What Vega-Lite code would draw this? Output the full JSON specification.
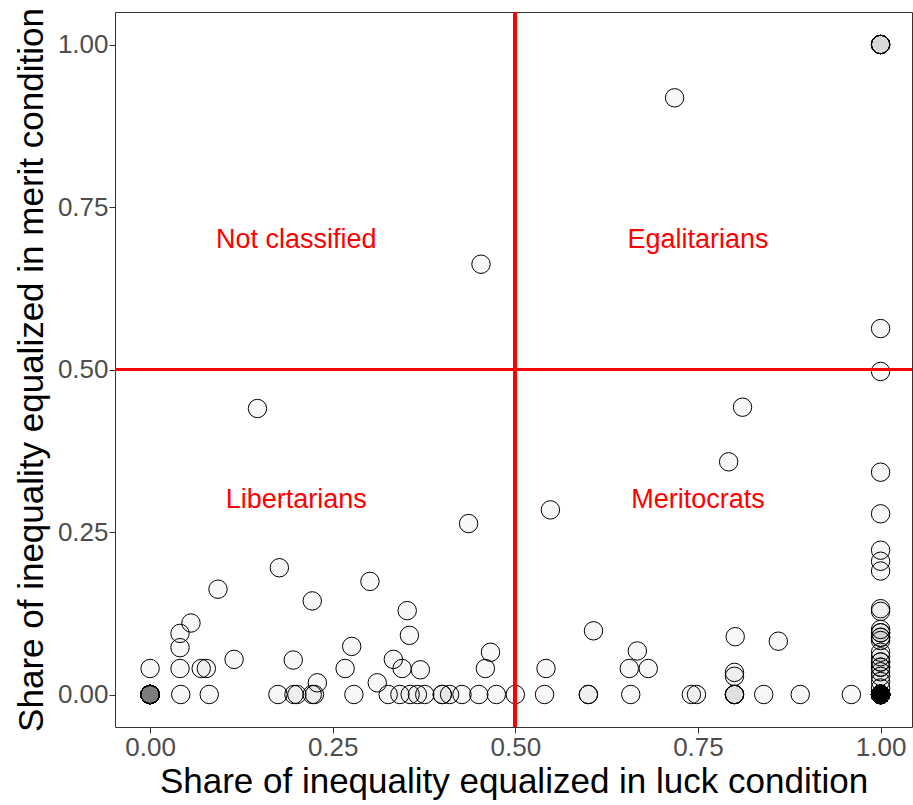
{
  "$schema": "https://vega.github.io/schema/vega-lite/v6.json",
  "width": 797,
  "height": 715,
  "autosize": {"type": "none"},
  "padding": {"left": 115, "top": 12, "right": 1, "bottom": 78},
  "background": "white",
  "config": {
    "view": {"stroke": "#333333", "strokeWidth": 1},
    "axis": {
      "grid": false, "domain": false, "tickColor": "#333333", "tickSize": 6, "tickWidth": 1,
      "labelColor": "#4d4d4d", "labelFont": "Liberation Sans", "labelFontSize": 26, "labelPadding": 1,
      "titleFont": "Liberation Sans", "titleFontSize": 35, "titleFontWeight": "normal", "titleColor": "black",
      "labelFlush": false
    }
  },
  "data": {"values": [
    {"luck":0.718,"merit":0.918},{"luck":0.453,"merit":0.662},{"luck":0.811,"merit":0.442},{"luck":0.147,"merit":0.44},
    {"luck":0.792,"merit":0.358},{"luck":0.548,"merit":0.284},{"luck":0.436,"merit":0.263},{"luck":0.093,"merit":0.162},
    {"luck":0.177,"merit":0.195},{"luck":0.222,"merit":0.144},{"luck":0.301,"merit":0.174},{"luck":0.056,"merit":0.11},
    {"luck":0.041,"merit":0.094},{"luck":0.041,"merit":0.072},{"luck":0.115,"merit":0.054},{"luck":0,"merit":0.04},
    {"luck":0.041,"merit":0.04},{"luck":0.07,"merit":0.04},{"luck":0.077,"merit":0.04},{"luck":0.196,"merit":0.053},
    {"luck":0.229,"merit":0.018},{"luck":0.276,"merit":0.074},{"luck":0.267,"merit":0.04},{"luck":0.311,"merit":0.018},
    {"luck":0.352,"merit":0.129},{"luck":0.355,"merit":0.091},{"luck":0.333,"merit":0.054},{"luck":0.345,"merit":0.04},
    {"luck":0.37,"merit":0.038},{"luck":0.466,"merit":0.065},{"luck":0.459,"merit":0.04},{"luck":0.607,"merit":0.098},
    {"luck":0.542,"merit":0.04},{"luck":0.656,"merit":0.04},{"luck":0.682,"merit":0.04},{"luck":0.667,"merit":0.067},
    {"luck":0.801,"merit":0.089},{"luck":0.86,"merit":0.082},{"luck":0.8,"merit":0.034},{"luck":0.8,"merit":0.028},
    {"luck":0.042,"merit":0},{"luck":0.081,"merit":0},{"luck":0.175,"merit":0},{"luck":0.197,"merit":0},
    {"luck":0.201,"merit":0},{"luck":0.222,"merit":0},{"luck":0.225,"merit":0},{"luck":0.279,"merit":0},
    {"luck":0.326,"merit":0},{"luck":0.342,"merit":0},{"luck":0.356,"merit":0},{"luck":0.366,"merit":0},
    {"luck":0.376,"merit":0},{"luck":0.4,"merit":0},{"luck":0.4,"merit":0},{"luck":0.41,"merit":0},
    {"luck":0.427,"merit":0},{"luck":0.45,"merit":0},{"luck":0.474,"merit":0},{"luck":0.5,"merit":0},
    {"luck":0.54,"merit":0},{"luck":0.6,"merit":0},{"luck":0.6,"merit":0},{"luck":0.658,"merit":0},
    {"luck":0.741,"merit":0},{"luck":0.748,"merit":0},{"luck":0.8,"merit":0},{"luck":0.8,"merit":0},
    {"luck":0.8,"merit":0},{"luck":0.8,"merit":0},{"luck":0.84,"merit":0},{"luck":0.89,"merit":0},
    {"luck":0.96,"merit":0},
    {"luck":1,"merit":1},{"luck":1,"merit":1},{"luck":1,"merit":1},{"luck":1,"merit":1},{"luck":1,"merit":1},
    {"luck":1,"merit":0.563},{"luck":1,"merit":0.497},{"luck":1,"merit":0.342},{"luck":1,"merit":0.278},
    {"luck":1,"merit":0.222},{"luck":1,"merit":0.205},{"luck":1,"merit":0.19},{"luck":1,"merit":0.132},
    {"luck":1,"merit":0.128},{"luck":1,"merit":0.1},{"luck":1,"merit":0.095},{"luck":1,"merit":0.095},
    {"luck":1,"merit":0.088},{"luck":1,"merit":0.088},{"luck":1,"merit":0.083},{"luck":1,"merit":0.065},
    {"luck":1,"merit":0.058},{"luck":1,"merit":0.05},{"luck":1,"merit":0.05},{"luck":1,"merit":0.042},
    {"luck":1,"merit":0.042},{"luck":1,"merit":0.035},{"luck":1,"merit":0.028},{"luck":1,"merit":0.02},
    {"luck":1,"merit":0.01},
    {"luck":0,"merit":0},{"luck":0,"merit":0},{"luck":0,"merit":0},{"luck":0,"merit":0},{"luck":0,"merit":0},
    {"luck":0,"merit":0},{"luck":0,"merit":0},{"luck":0,"merit":0},{"luck":0,"merit":0},{"luck":0,"merit":0},
    {"luck":0,"merit":0},{"luck":0,"merit":0},{"luck":0,"merit":0},{"luck":0,"merit":0},{"luck":0,"merit":0},
    {"luck":0,"merit":0},{"luck":0,"merit":0},{"luck":0,"merit":0},{"luck":0,"merit":0},{"luck":0,"merit":0},
    {"luck":0,"merit":0},
    {"luck":1,"merit":0},{"luck":1,"merit":0},{"luck":1,"merit":0},{"luck":1,"merit":0},{"luck":1,"merit":0},
    {"luck":1,"merit":0},{"luck":1,"merit":0},{"luck":1,"merit":0},{"luck":1,"merit":0},{"luck":1,"merit":0},
    {"luck":1,"merit":0},{"luck":1,"merit":0},{"luck":1,"merit":0},{"luck":1,"merit":0},{"luck":1,"merit":0},
    {"luck":1,"merit":0},{"luck":1,"merit":0},{"luck":1,"merit":0},{"luck":1,"merit":0},{"luck":1,"merit":0},
    {"luck":1,"merit":0},{"luck":1,"merit":0},{"luck":1,"merit":0},{"luck":1,"merit":0},{"luck":1,"merit":0},
    {"luck":1,"merit":0},{"luck":1,"merit":0},{"luck":1,"merit":0},{"luck":1,"merit":0},{"luck":1,"merit":0},
    {"luck":1,"merit":0},{"luck":1,"merit":0},{"luck":1,"merit":0},{"luck":1,"merit":0},{"luck":1,"merit":0},
    {"luck":1,"merit":0},{"luck":1,"merit":0},{"luck":1,"merit":0},{"luck":1,"merit":0},{"luck":1,"merit":0},
    {"luck":1,"merit":0},{"luck":1,"merit":0},{"luck":1,"merit":0},{"luck":1,"merit":0},{"luck":1,"merit":0},
    {"luck":1,"merit":0},{"luck":1,"merit":0},{"luck":1,"merit":0},{"luck":1,"merit":0},{"luck":1,"merit":0},
    {"luck":1,"merit":0},{"luck":1,"merit":0},{"luck":1,"merit":0},{"luck":1,"merit":0},{"luck":1,"merit":0},
    {"luck":1,"merit":0},{"luck":1,"merit":0},{"luck":1,"merit":0},{"luck":1,"merit":0},{"luck":1,"merit":0},
    {"luck":1,"merit":0},{"luck":1,"merit":0},{"luck":1,"merit":0},{"luck":1,"merit":0},{"luck":1,"merit":0},
    {"luck":1,"merit":0},{"luck":1,"merit":0},{"luck":1,"merit":0},{"luck":1,"merit":0},{"luck":1,"merit":0},
    {"luck":1,"merit":0},{"luck":1,"merit":0},{"luck":1,"merit":0},{"luck":1,"merit":0},{"luck":1,"merit":0},
    {"luck":1,"merit":0},{"luck":1,"merit":0},{"luck":1,"merit":0},{"luck":1,"merit":0},{"luck":1,"merit":0},
    {"luck":1,"merit":0},{"luck":1,"merit":0},{"luck":1,"merit":0},{"luck":1,"merit":0},{"luck":1,"merit":0},
    {"luck":1,"merit":0},{"luck":1,"merit":0},{"luck":1,"merit":0},{"luck":1,"merit":0},{"luck":1,"merit":0}
  ]},
  "layer": [
    {
      "mark": {"type": "point", "shape": "circle", "filled": false, "fill": "black", "fillOpacity": 0.03, "stroke": "black", "strokeOpacity": 1, "strokeWidth": 1, "opacity": 1, "size": 340},
      "encoding": {
        "x": {"field": "luck", "type": "quantitative", "scale": {"domain": [-0.048, 1.043], "nice": false, "zero": false},
              "axis": {"values": [0, 0.25, 0.5, 0.75, 1], "format": ".2f", "title": "Share of inequality equalized in luck condition", "titlePadding": 4}},
        "y": {"field": "merit", "type": "quantitative", "scale": {"domain": [-0.05, 1.05], "nice": false, "zero": false},
              "axis": {"values": [0, 0.25, 0.5, 0.75, 1], "format": ".2f", "title": "Share of inequality equalized in merit condition", "titlePadding": 8}}
      }
    },
    {"mark": {"type": "rule", "color": "red", "strokeWidth": 3}, "encoding": {"x": {"datum": 0.5, "type": "quantitative"}}},
    {"mark": {"type": "rule", "color": "red", "strokeWidth": 3}, "encoding": {"y": {"datum": 0.5, "type": "quantitative"}}},
    {
      "data": {"values": [
        {"luck": 0.2, "merit": 0.7, "label": "Not classified"},
        {"luck": 0.75, "merit": 0.7, "label": "Egalitarians"},
        {"luck": 0.2, "merit": 0.3, "label": "Libertarians"},
        {"luck": 0.75, "merit": 0.3, "label": "Meritocrats"}
      ]},
      "mark": {"type": "text", "color": "red", "font": "Liberation Sans", "fontSize": 27, "align": "center", "baseline": "middle"},
      "encoding": {
        "x": {"field": "luck", "type": "quantitative"},
        "y": {"field": "merit", "type": "quantitative"},
        "text": {"field": "label"}
      }
    }
  ]
}
